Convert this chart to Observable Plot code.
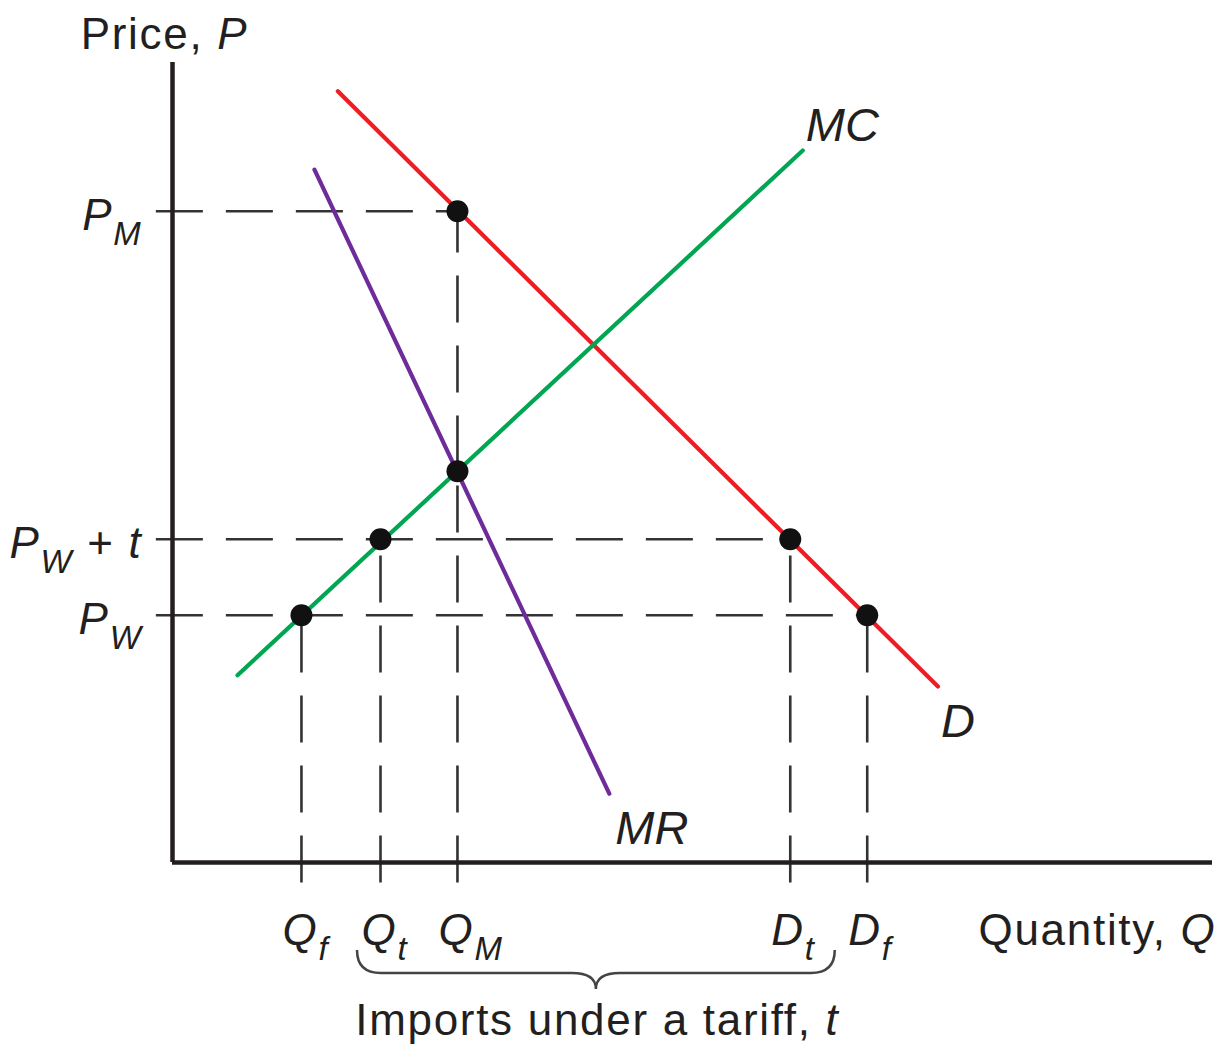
<!DOCTYPE html>
<html><head><meta charset="utf-8">
<script src="https://cdn.jsdelivr.net/npm/d3@7"></script>
<script src="https://cdn.jsdelivr.net/npm/@observablehq/plot@0.6"></script>
<style>body{margin:0;background:#fff} svg{display:block} text{white-space:pre}</style>
</head><body><div id="chart"></div>
<script>
// ---- data ----
const qNames = ["*Q*_{f}", "*Q*_{t}", "*Q*_{M}", "*D*_{t}", "*D*_{f}"];
const qValues = [12.4, 20.0, 27.4, 59.4, 66.8];
const pNames = ["*P*_{M}", "*P*_{W} + *t*", "*P*_{W}"];
const pValues = [81.4, 40.4, 30.9];

const demandQ = [15.9, 73.6], demandP = [96.4, 22.0];
const mcQ = [6.25, 60.6],     mcP = [23.4, 89.0];
const mrQ = [13.65, 42.0],    mrP = [86.6, 8.6];
const curveNames = ["*D*", "*MC*", "*MR*"];

const dotQ = [27.4, 27.4, 20.0, 59.4, 12.4, 66.8];
const dotP = [81.4, 48.9, 40.4, 40.4, 30.9, 30.9];

const xTitle = "Quantity, *Q*";
const yTitle = "Price, *P*";
const braceTitle = "Imports under a tariff, *t*";

// ---- derived tables ----
const dots = dotQ.map((q, i) => ({q, p: dotP[i]}));
const hLines = pValues.map(p => ({p, q: d3.max(dots.filter(d => d.p === p), d => d.q)}));
const vLines = qValues.map(q => ({q, p: d3.max(dots.filter(d => d.q === q), d => d.p)}));
const pTicks = pValues.map((p, i) => ({p, name: pNames[i]}));
const qTicks = qValues.map((q, i) => ({q, name: qNames[i]}));
const curves = [
  {name: curveNames[0], color: "#ee1c25", q: demandQ, p: demandP},
  {name: curveNames[1], color: "#00a651", q: mcQ, p: mcP},
  {name: curveNames[2], color: "#6e2c9a", q: mrQ, p: mrP}
];
const curvePts = curves.flatMap(c => c.q.map((q, i) => ({name: c.name, color: c.color, q, p: c.p[i]})));
const curveEnds = curves.map(c => ({name: c.name, q: c.q[1], p: c.p[1]}));

// style constants
const INK = "#231f20", DASH = "#333";
const extendLeft = -1.6, extendDown = -2.5;   // dashed guide overshoot past the axes

const plot = Plot.plot({
  width: 1223, height: 1045,
  marginLeft: 172, marginRight: 11, marginTop: 62, marginBottom: 183,
  x: {domain: [0, 100], axis: null},
  y: {domain: [0, 100], axis: null},
  style: {fontFamily: "'Liberation Sans', Arial, Helvetica, sans-serif", color: INK, background: "#fff"},
  marks: [
    // dashed guides
    Plot.link(hLines, {x1: () => extendLeft, y1: "p", x2: "q", y2: "p", stroke: DASH, strokeWidth: 2.6, strokeDasharray: "47,23"}),
    Plot.link(vLines, {x1: "q", y1: () => extendDown, x2: "q", y2: "p", stroke: DASH, strokeWidth: 2.6, strokeDasharray: "47,23"}),
    // axes
    Plot.ruleX([0], {stroke: INK, strokeWidth: 4.5}),
    Plot.ruleY([0], {stroke: INK, strokeWidth: 4.5}),
    // curves
    Plot.line(curvePts, {x: "q", y: "p", z: "name", stroke: "color", strokeWidth: 4.2}),
    // points
    Plot.dot(dots, {x: "q", y: "p", r: 11, fill: "#111", stroke: "none"}),
    // tick labels
    Plot.text(pTicks, {x: () => 0, y: "p", text: "name", textAnchor: "end", lineAnchor: "bottom", dx: -30, dy: 19, fontSize: 44, fill: INK}),
    Plot.text(qTicks, {x: "q", y: () => 0, text: "name", textAnchor: "start", lineAnchor: "bottom", dx: -19, dy: 82, fontSize: 44, fill: INK}),
    // curve labels
    Plot.text(curveEnds.filter(d => d.name === "*MC*"), {x: "q", y: "p", text: "name", textAnchor: "start", lineAnchor: "bottom", dx: 3, dy: -10, fontSize: 47, fill: INK}),
    Plot.text(curveEnds.filter(d => d.name === "*D*"), {x: "q", y: "p", text: "name", textAnchor: "start", lineAnchor: "bottom", dx: 3, dy: 50, fontSize: 47, fill: INK}),
    Plot.text(curveEnds.filter(d => d.name === "*MR*"), {x: "q", y: "p", text: "name", textAnchor: "start", lineAnchor: "bottom", dx: 6, dy: 50, fontSize: 47, fill: INK}),
    // axis titles
    Plot.text([yTitle], {x: () => 0, y: () => 100, text: d => d, textAnchor: "middle", lineAnchor: "bottom", dx: -8, dy: -14, fontSize: 44, fill: INK}),
    Plot.text([xTitle], {x: () => 100, y: () => 0, text: d => d, textAnchor: "end", lineAnchor: "bottom", dx: 4, dy: 82, fontSize: 44, fill: INK}),
    Plot.text([braceTitle], {x: () => (qValues[1] + qValues[3]) / 2, y: () => 0, text: d => d, textAnchor: "middle", lineAnchor: "bottom", dx: 12, dy: 172, fontSize: 44, fill: INK})
  ]
});

// letter spacing to match the wide lettering of the reference
d3.select(plot).selectAll("text").attr("letter-spacing", function() {
  const fs = +this.parentNode.getAttribute("font-size") || 44;
  return fs === 47 ? 0 : 1.7;
});

// rich text: *italic* and _{subscript}
const SUB_DY = 15;
d3.select(plot).selectAll("text").each(function() {
  const s = this.textContent;
  if (!/[*_]/.test(s)) return;
  const el = d3.select(this);
  this.textContent = "";
  let shift = 0;
  const re = /\*([^*]+)\*|_\{([^}]+)\}|([^*_]+)/g;
  let m;
  while ((m = re.exec(s))) {
    const t = el.append("tspan");
    if (m[2] !== undefined) {
      t.text(m[2]).attr("font-style", "italic").attr("font-size", 33).attr("dy", SUB_DY - shift);
      shift = SUB_DY;
    } else {
      t.text(m[1] !== undefined ? m[1] : m[3]);
      if (m[1] !== undefined) t.attr("font-style", "italic");
      if (shift) t.attr("dy", -shift);
      shift = 0;
    }
  }
});

// brace under the imports (from Q_t to D_t), drawn with the plot's scales
const sx = plot.scale("x").apply, sy = plot.scale("y").apply;
const bx0 = sx(qValues[1]) - 23, bx1 = sx(qValues[3]) + 45, bm = (bx0 + bx1) / 2;
const by0 = sy(0) + 88, by1 = by0 + 23, by2 = by1 + 16, r = 24;
const path = d3.path();
path.moveTo(bx0, by0);
path.quadraticCurveTo(bx0, by1, bx0 + r, by1);
path.lineTo(bm - r, by1);
path.quadraticCurveTo(bm, by1, bm, by2);
path.quadraticCurveTo(bm, by1, bm + r, by1);
path.lineTo(bx1 - r, by1);
path.quadraticCurveTo(bx1, by1, bx1, by0);
d3.select(plot).append("path").attr("d", path.toString()).attr("fill", "none").attr("stroke", "#444").attr("stroke-width", 2.5);

document.getElementById("chart").appendChild(plot);
</script>
</body></html>
